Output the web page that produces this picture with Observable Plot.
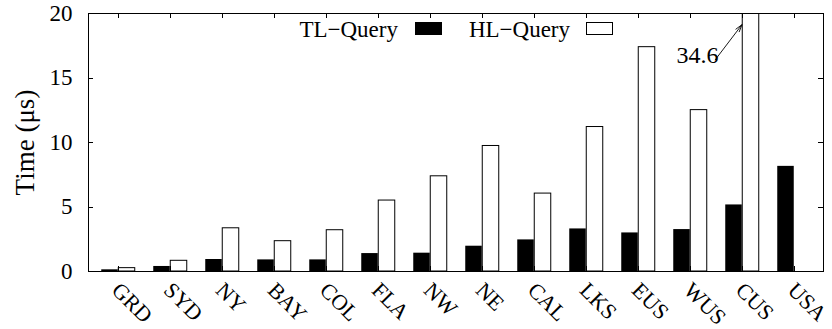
<!DOCTYPE html>
<html>
<head>
<meta charset="utf-8">
<script src="https://cdn.jsdelivr.net/npm/d3@7"></script>
<script src="https://cdn.jsdelivr.net/npm/@observablehq/plot@0.6"></script>
<style>
  body { margin: 0; background: #fff; }
  #chart svg { display: block; }
</style>
</head>
<body>
<div id="chart"></div>
<script>
// Road networks, in order of size
const datasets = ["GRD", "SYD", "NY", "BAY", "COL", "FLA", "NW", "NE", "CAL", "LKS", "EUS", "WUS", "CUS", "USA"];
// Average query time in microseconds
const tlQuery = [0.13, 0.39, 0.93, 0.90, 0.90, 1.39, 1.42, 1.96, 2.45, 3.30, 2.99, 3.25, 5.16, 8.15];
const hlQuery = [0.26, 0.83, 3.35, 2.35, 3.20, 5.50, 7.38, 9.73, 6.04, 11.20, 17.39, 12.51, 34.6, null];
const yTicks = [0, 5, 10, 15, 20];
const seriesNames = ["TL\u2212Query", "HL\u2212Query"];

const rows = datasets.map((name, i) => ({name, tl: tlQuery[i], hl: hlQuery[i]}));
// the one HL bar that runs past the top of the axis gets its value written next to it
const overflow = rows.filter(d => d.hl != null && d.hl > 20);

const W = 832, H = 329;
const mL = 88, mR = 9, mT = 13, mB = 58;
const band = (W - mL - mR) / datasets.length;
const barW = 17;
const serif = "'Liberation Serif', 'Times New Roman', serif";

// inward tick marks on all four sides of the frame
function frameTicks(index, scales, values, dims) {
  const {x, y} = scales;
  const bw = typeof x.bandwidth === "function" ? x.bandwidth() : (x.bandwidth || 0);
  const L = dims.marginLeft, R = dims.width - dims.marginRight;
  const T = dims.marginTop, B = dims.height - dims.marginBottom;
  const g = d3.create("svg:g").attr("stroke", "black").attr("stroke-width", 1).attr("fill", "none");
  const p = d3.path();
  for (const v of yTicks.slice(1, -1)) {
    const yy = Math.round(y(v)) + 0.5;
    p.moveTo(L, yy); p.lineTo(L + 5, yy);
    p.moveTo(R, yy); p.lineTo(R - 5, yy);
  }
  for (const c of datasets) {
    const xx = Math.round(x(c) + bw / 2) + 0.5;
    p.moveTo(xx, T); p.lineTo(xx, T + 5);
    p.moveTo(xx, B); p.lineTo(xx, B - 5);
  }
  g.append("path").attr("d", p.toString());
  return g.node();
}

// pointer from the value label to the top of the clipped bar
function overflowArrow(index, scales, values, dims) {
  const {x, y} = scales;
  const bw = typeof x.bandwidth === "function" ? x.bandwidth() : (x.bandwidth || 0);
  const g = d3.create("svg:g").attr("stroke", "black").attr("stroke-width", 0.9).attr("fill", "none");
  for (const d of overflow) {
    const x2 = x(d.name) + bw / 2, y2 = y(19.1);
    const x1 = x2 - 27, y1 = y(16.35);
    const a = Math.atan2(y2 - y1, x2 - x1), len = 8, spread = 0.28;
    g.append("line").attr("x1", x1).attr("y1", y1).attr("x2", x2).attr("y2", y2);
    g.append("path").attr("d",
      `M${x2 - len * Math.cos(a - spread)},${y2 - len * Math.sin(a - spread)}L${x2},${y2}L${x2 - len * Math.cos(a + spread)},${y2 - len * Math.sin(a + spread)}`);
  }
  return g.node();
}

const plot = Plot.plot({
  width: W,
  height: H,
  marginLeft: mL,
  marginRight: mR,
  marginTop: mT,
  marginBottom: mB,
  style: {fontFamily: serif, fontSize: "23px", color: "black", background: "white"},
  x: {type: "band", domain: datasets, padding: 0, axis: null},
  y: {domain: [0, 20], axis: null},
  marks: [
    Plot.barY(rows, {x: "name", y: "tl", fill: "black", insetLeft: band / 2 - barW, insetRight: band / 2, clip: true}),
    Plot.barY(rows.filter(d => d.hl != null), {x: "name", y: "hl", fill: "white", stroke: "black", strokeWidth: 1,
      insetLeft: band / 2, insetRight: band / 2 - barW, clip: true}),
    frameTicks,
    Plot.frame({stroke: "black", strokeWidth: 1}),
    Plot.axisY(yTicks, {anchor: "left", tickSize: 0, tickPadding: 16, label: null, fontSize: 23}),
    Plot.text(["Time (\u03bcs)"], {frameAnchor: "left", dx: -63, rotate: -90, fontSize: 27, textAnchor: "middle", lineAnchor: "middle"}),
    Plot.text(datasets, {x: d => d, frameAnchor: "bottom", rotate: 45, textAnchor: "start", lineAnchor: "middle", dx: -3, dy: 15, fontSize: 22}),
    Plot.text(overflow, {x: "name", y: () => 16.74, text: d => d.hl.toFixed(1), textAnchor: "end", lineAnchor: "middle", dx: -24, fontSize: 24}),
    overflowArrow
  ]
});

// key in the top of the frame
const svg = d3.select(plot);
const key = svg.append("g").attr("font-family", serif).attr("font-size", 23);
const keyItems = [
  {label: seriesNames[0], textEnd: 398, box: 415, fill: "black"},
  {label: seriesNames[1], textEnd: 570, box: 586, fill: "white"}
];
for (const k of keyItems) {
  key.append("text").attr("x", k.textEnd).attr("y", 37).attr("text-anchor", "end").attr("fill", "black").text(k.label);
  key.append("rect").attr("x", k.box + 0.5).attr("y", 22.5).attr("width", 26).attr("height", 12)
    .attr("fill", k.fill).attr("stroke", "black").attr("stroke-width", 1);
}

document.getElementById("chart").appendChild(plot);
</script>
</body>
</html>
